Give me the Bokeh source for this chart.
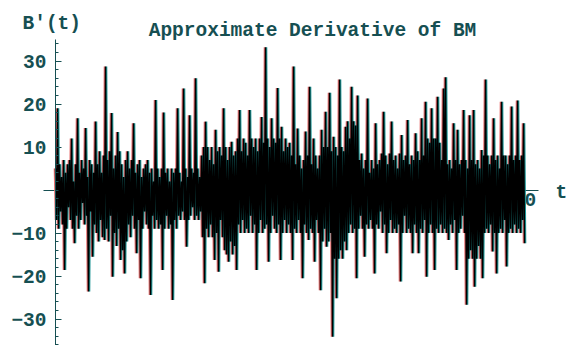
from bokeh.plotting import figure
from bokeh.models import Range1d, FixedTicker, Label
from bokeh.embed import file_html
from bokeh.resources import INLINE
import numpy as np

# Difference-quotient estimate of B'(t) for a Brownian path on [0, 10]
db = [
    5, -7, 19, -9, 6, -5, 3, -8, 7, -18.6,
    4, -9, 6, -4, 7, -7, 12, -9, 2, -12.4,
    6, -6, 16.7, -9, 4, -7, 7, -3, 5, -8,
    14.4, -6, 3, -23.6, 7, -5, 6, -15.5, 4, -8,
    15.9, -10, 6, -12, 9, -7, 4, -11, 8, -11.6,
    28.7, -9, 7, -12, 9, -6, 17.9, -20.2, 5, -10,
    8, -13, 13.5, -9, 9, -16.3, 6, -14, 3, -19.4,
    7, -12, 9, -8, 5, -11, 7, -6, 15.5, -9,
    4, -14.7, 6, -7, 7, -20.5, 3, -9, 5, -5,
    6, -8, 7, -9, 4, -24.4, 5, -6, 2, -9,
    20.9, -7, 5, -9, 3, -8, 5, -18.6, 18, -9,
    4, -6, 5, -9, 2, -8, 5, -25.6, 4, -7,
    5, -9, 19, -6, 4, -7, 2, -5, 23.6, -7,
    5, -13.2, 3, -7, 17.4, -6, 5, -4, 4, -7,
    26, -6, 5, -7, 3, -5, 8, -11, 10, -21.7,
    15.9, -9, 10, -11, 7, -8, 10, -11, 6, -16.3,
    14, -10, 9, -19, 10, -7, 8, -11, 19, -14,
    10, -15, 7, -16.7, 10, -12, 11.2, -15, 8, -13,
    9, -18.6, 12, -8, 18.6, -10, 9, -7, 12, -10,
    11, -9, 8, -10, 18.6, -6, 12, -10, 10, -8,
    12, -18.6, 9, -10, 12, -7, 17, -10, 11, -9,
    33.2, -8, 12, -16.7, 10, -10, 16.7, -6, 12, -9,
    11, -10, 23.7, -8, 12, -16.3, 14.7, -10, 9, -7,
    12, -10, 10, -8, 11, -10, 8, -16.3, 28.7, -9,
    6, -10, 14.3, -7, 8, -10, 5, -20.5, 7, -8,
    13.6, -10, 8, -11.6, 24, -9, 6, -10, 12, -16.7,
    8, -7, 5, -10, 8, -23.3, 14, -12, 10, -9,
    18.2, -13.2, 10, -12, 22.6, -10, 9, -34.1, 12.4, -16,
    10, -25.2, 8, -16, 25.7, -14, 10, -16, 9, -12,
    14.7, -14, 16, -10, 12, -8, 24, -10, 16, -9,
    15, -20.5, 22, -9, 7, -6, 8.5, -9, 5, -15.5,
    7, -8, 21.3, -9, 4, -7, 7, -9, 5, -19.4,
    15.5, -8, 6, -9, 7, -5, 8.5, -10, 18.2, -8,
    8, -14.7, 6, -10, 8.5, -7, 15.9, -10, 7, -9,
    8, -10, 5, -8, 8.5, -21.3, 12.8, -10, 7, -6,
    8, -10, 16.3, -9, 6, -10, 8, -14.7, 7, -8,
    13.2, -10, 9, -14.7, 7, -9, 16.7, -10, 8, -7,
    20.5, -20.2, 12, -10, 11, -8, 19, -10, 12, -18.6,
    12, -9, 21.7, -10, 11, -8, 7, -10, 23.6, -9,
    26.2, -10, 6, -11.6, 7, -8, 5, -10, 15.5, -7,
    7, -18.6, 14, -10, 6, -9, 7, -6, 18.6, -10,
    7, -26.7, 5, -16, 17.4, -14, 7, -16, 18.6, -22.5,
    6, -16, 7, -13, 5, -16, 9.3, -20.5, 8, -10,
    25.7, -9, 8, -10, 6, -8, 8, -14.3, 16.7, -10,
    7, -19.4, 8, -10, 5, -9, 20.5, -10, 8, -7,
    8, -17.8, 6, -10, 8, -9, 19.4, -10, 7, -8,
    8, -10, 20.8, -9, 7, -10, 8, -7, 15.5, -12.4,
]
t_end = 10
t = np.linspace(0, t_end, len(db))

y_ticks = [-30, -20, -10, 10, 20, 30]
y_minor = list(range(-36, 36, 2))
x_ticks = [10]

W, H = 568, 345
ink = "#164f52"
mono = "Liberation Mono"
fsize = "19.5px"

# pixel geometry of the frame: origin at (55, 189.5)
px_x, px_y = 46.9, 4.3
x0, y0 = 55, 189.5

p = figure(
    width=W, height=H,
    x_range=Range1d(-x0 / px_x, (W - x0) / px_x),
    y_range=Range1d(-(H - y0) / px_y, y0 / px_y),
    output_backend="svg", toolbar_location=None,
    min_border=0, outline_line_color=None,
    background_fill_color="white", border_fill_color="white",
)
p.grid.visible = False

# colour fringing of the printed trace: warm edge on the left, cool on the right
shift = 1.0 / px_x
p.line(t - shift, db, line_color="#e87070", line_width=1.6)
p.line(t + shift, db, line_color="#1a9494", line_width=1.6)
p.line(t, db, line_color="black", line_width=1.5)

# axes crossing at the origin
xa = p.xaxis[0]
xa.fixed_location = 0
xa.bounds = (-0.25, 10.3)
xa.ticker = FixedTicker(ticks=x_ticks)
xa.major_tick_in = 4
xa.major_tick_out = 0
xa.minor_tick_line_color = None
xa.axis_line_color = ink
xa.major_tick_line_color = ink
xa.major_label_text_font = mono
xa.major_label_text_font_size = fsize
xa.major_label_text_font_style = "bold"
xa.major_label_text_color = ink
xa.major_label_standoff = 3
xa.level = "underlay"

ya = p.yaxis[0]
ya.fixed_location = 0
ya.bounds = (-36.1, 35)
ya.ticker = FixedTicker(ticks=y_ticks, minor_ticks=y_minor)
ya.major_tick_in = 6
ya.major_tick_out = 0
ya.minor_tick_in = 3
ya.minor_tick_out = 0
ya.axis_line_color = ink
ya.major_tick_line_color = ink
ya.minor_tick_line_color = ink
ya.major_label_text_font = mono
ya.major_label_text_font_size = fsize
ya.major_label_text_font_style = "bold"
ya.major_label_text_color = ink
ya.major_label_standoff = 9


def caption(text, sx, sy_base, align="left"):
    p.add_layout(Label(
        x=sx, y=H - sy_base, x_units="screen", y_units="screen",
        text=text, text_font=mono, text_font_size=fsize,
        text_font_style="bold", text_color=ink,
        text_align=align, text_baseline="alphabetic",
    ))


caption("Approximate Derivative of BM", 312, 30, "center")
caption("B'(t)", 22, 23)
caption("t", 555, 192)

open("out.html", "w").write(file_html(p, INLINE))
